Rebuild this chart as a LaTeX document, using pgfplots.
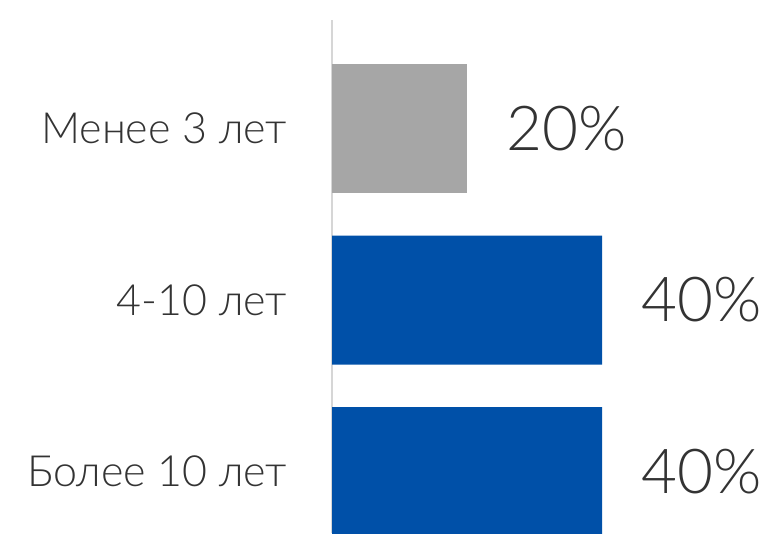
\documentclass[border=0pt]{standalone}
\usepackage{fontspec}
\setmainfont{Lato}[UprightFont={* Light}]
\usepackage{pgfplots}
\pgfplotsset{compat=1.18}
\definecolor{barblue}{HTML}{0050A8}
\definecolor{bargray}{HTML}{A6A6A6}
\definecolor{txt}{HTML}{333333}
\definecolor{axline}{HTML}{D6D6D6}
\begin{document}
\begin{tikzpicture}[x=1pt,y=1pt]
\useasboundingbox (0,0) rectangle (779,533);
\begin{axis}[
  at={(332pt,0pt)}, anchor=south west,
  scale only axis, width=447pt, height=513pt,
  xbar, bar width=129pt, bar shift=0pt,
  xmin=0, xmax=66.22,
  ymin=-0.3586, ymax=2.6327,
  axis x line=none, axis y line=left,
  y axis line style={axline, line width=2pt, -},
  ytick={0,1,2},
  yticklabels={Более 10 лет, 4-10 лет, Менее 3 лет},
  major tick length=0pt,
  yticklabel style={font=\fontsize{43}{43}\selectfont, text=txt, inner sep=0pt, anchor=east, xshift=-45pt},
  /pgf/number format/assume math mode=true,
  nodes near coords={\pgfmathprintnumber{\pgfplotspointmeta}\%},
  every node near coord/.append style={font=\fontsize{62}{62}\selectfont, text=txt, inner sep=0pt, anchor=west, xshift=39pt},
  clip=false,
]
\addplot[draw=none, fill=barblue] coordinates {(40,0) (40,1)};
\addplot[draw=none, fill=bargray] coordinates {(20,2)};
\end{axis}
\end{tikzpicture}
\end{document}
